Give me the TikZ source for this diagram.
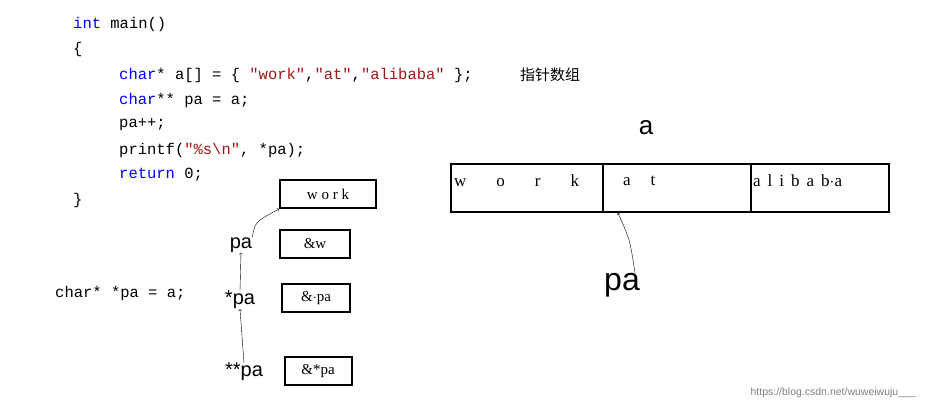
\documentclass[tikz,border=0pt]{standalone}
\usepackage{fontspec}
\setmainfont{Liberation Serif}
\newfontfamily\codefont{Liberation Mono}
\newfontfamily\sansf{Liberation Sans}
\newfontfamily\cjk{Noto Sans CJK SC}
\begin{document}
\begin{tikzpicture}[x=1pt,y=-1pt,
  code/.style={anchor=west,inner sep=0,font=\codefont\fontsize{15.5}{16}\selectfont},
  cell/.style={draw,line width=2pt,anchor=north west,inner sep=0},
  hand/.style={font=\sansf\fontsize{20}{20}\selectfont,inner sep=0},
  arrtxt/.style={anchor=west,inner sep=0,font=\fontsize{17}{17}\selectfont},
  box/.style={draw,line width=2pt,minimum height=28pt,inner sep=0,font=\fontsize{15}{15}\selectfont},
  arr/.style={->,thin}]
\useasboundingbox (0,0) rectangle (926,410);
\definecolor{str}{RGB}{163,21,21}
\node[code] (l1) at (73,24) {\textcolor{blue}{int} main()};
\node[code] (l2) at (73,49) {\{};
\node[code] (l3) at (119,75) {\textcolor{blue}{char}* a[] = \{ \textcolor{str}{"work"},\textcolor{str}{"at"},\textcolor{str}{"alibaba"} \};};
\node[anchor=west,inner sep=0,font=\cjk\fontsize{15}{15}\selectfont] (cn) at (520,75) {指针数组};
\node[code] (l4) at (119,100) {\textcolor{blue}{char}** pa = a;};
\node[code] (l5) at (119,125) {pa++;};
\node[code] (l6) at (119,150) {printf(\textcolor{str}{"\%s\textbackslash n"}, *pa);};
\node[code] (l7) at (119,175) {\textcolor{blue}{return} 0;};
\node[code] (l8) at (73,200) {\}};
\node[code] (cp) at (55,293) {char* *pa = a;};
% array
\node[cell,minimum width=152pt,minimum height=48pt] (c1) at (450,163) {};
\node[cell,minimum width=148pt,minimum height=48pt] (c2) at (602,163) {};
\node[cell,minimum width=138pt,minimum height=48pt] (c3) at (750,163) {};
\node[arrtxt] (t1) at (454,181) {w\hspace{30pt}o\hspace{30pt}r\hspace{30pt}k};
\node[arrtxt] (t2) at (623,181) {a\hspace{20pt}t};
\node[arrtxt] (t3) at (753,181) {a\hspace{7pt}l\hspace{7pt}i\hspace{7pt}b\hspace{7pt}a\hspace{7pt}b$\cdot$a};
\node[hand,font=\sansf\fontsize{26}{26}\selectfont] (a) at (646,128) {a};
\node[hand,font=\sansf\fontsize{32}{32}\selectfont] (pa) at (622,285) {pa};
\draw[arr] (pa.north east) ++(-5,0) coordinate (ps) .. controls (630,240) .. (c2.south west -| 618,213);
% left stack
\node[box,minimum width=96pt] (b1) at (328,194) {w\ o\ r\ k};
\node[box,minimum width=70pt] (b2) at (315,244) {\&w};
\node[box,minimum width=68pt] (b3) at (316,298) {\&$\cdot$pa};
\node[box,minimum width=67pt] (b4) at (318,371) {\&*pa};
\node[hand] (p1) at (241,245) {pa};
\node[hand] (p2) at (240,300) {*pa};
\node[hand] (p3) at (244,372) {**pa};
\draw[arr] (p1.north east) .. controls (255,222) .. (b1.south west);
\draw[arr] (p2.north) -- (p1.south);
\draw[arr] (p3.north) -- (p2.south);
\node[anchor=east,inner sep=0,text=gray,font=\sansf\fontsize{10.5}{11}\selectfont] (wm) at (916,393) {https://blog.csdn.net/wuweiwuju\_\_\_};
\end{tikzpicture}
\end{document}
